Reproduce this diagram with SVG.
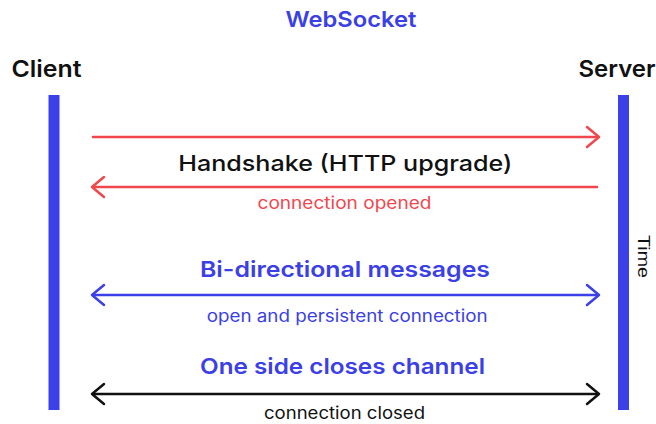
<svg xmlns="http://www.w3.org/2000/svg" width="656" height="424" viewBox="0 0 656 424">
  <style>
    text { font-family: Inter, "Noto Sans", "Liberation Sans", sans-serif; }
    .title { font-size: 22px; font-weight: 600; fill: #3b40e6; }
    .actor { font-size: 23px; font-weight: 600; fill: #111; }
    .head { font-size: 22px; font-weight: 500; fill: #111; }
    .bhead { font-size: 22px; font-weight: 600; fill: #3b40e6; }
    .sub { font-size: 17px; font-weight: 400; }
    .time { font-family: "Liberation Sans", Arial, sans-serif; font-size: 16px; fill: #111; }
    .bar { fill: #3b40e8; }
    .ln { fill: none; stroke-width: 2.5; stroke-linecap: round; stroke-linejoin: round; }
    .red { stroke: #f0474e; }
    .blue { stroke: #3b40e8; }
    .black { stroke: #111; }
  </style>

  <text class="title" x="351" y="27" text-anchor="middle" textLength="131" lengthAdjust="spacingAndGlyphs">WebSocket</text>

  <g id="client">
    <text class="actor" x="11.5" y="77" textLength="70" lengthAdjust="spacingAndGlyphs">Client</text>
    <rect class="bar" x="48.5" y="95" width="11" height="315"/>
  </g>

  <g id="server">
    <text class="actor" x="578.5" y="77" textLength="77" lengthAdjust="spacingAndGlyphs">Server</text>
    <rect class="bar" x="618" y="95" width="11" height="315"/>
    <text class="time" transform="translate(638,235) rotate(90)" x="0" y="0" textLength="43" lengthAdjust="spacingAndGlyphs">Time</text>
  </g>

  <g id="connectors">
    <g id="handshake-request">
      <path class="ln red" d="M93,137 H598"/>
      <path class="ln red" d="M587,127 L599,137 L587,147"/>
    </g>
    <g id="handshake-response">
      <path class="ln red" d="M597,187 H93"/>
      <path class="ln red" d="M104,177 L92,187 L104,197"/>
    </g>
    <g id="bidirectional">
      <path class="ln blue" d="M93,295 H598"/>
      <path class="ln blue" d="M104,285 L92,295 L104,305"/>
      <path class="ln blue" d="M587,285 L599,295 L587,305"/>
    </g>
    <g id="close">
      <path class="ln black" d="M93,394 H598"/>
      <path class="ln black" d="M104,384 L92,394 L104,404"/>
      <path class="ln black" d="M587,384 L599,394 L587,404"/>
    </g>
  </g>

  <g id="labels">
    <text class="head" x="345.3" y="171" text-anchor="middle" textLength="334" lengthAdjust="spacingAndGlyphs">Handshake (HTTP upgrade)</text>
    <text class="sub" x="344.5" y="208.5" text-anchor="middle" fill="#f0474e" textLength="174" lengthAdjust="spacingAndGlyphs">connection opened</text>
    <text class="bhead" x="345" y="277" text-anchor="middle" textLength="290" lengthAdjust="spacingAndGlyphs">Bi-directional messages</text>
    <text class="sub" x="347.2" y="321.5" text-anchor="middle" fill="#3b40e6" textLength="281" lengthAdjust="spacingAndGlyphs">open and persistent connection</text>
    <text class="bhead" x="342.5" y="373.5" text-anchor="middle" textLength="285" lengthAdjust="spacingAndGlyphs">One side closes channel</text>
    <text class="sub" x="344.5" y="419" text-anchor="middle" fill="#111" textLength="161" lengthAdjust="spacingAndGlyphs">connection closed</text>
  </g>
</svg>
